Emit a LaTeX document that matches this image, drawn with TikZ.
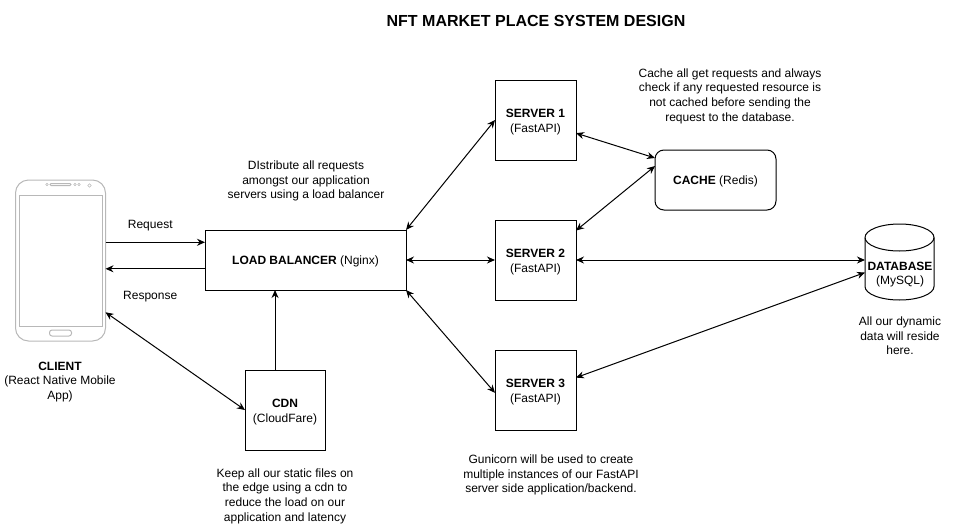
\documentclass[tikz,border=0pt]{standalone}
\usepackage{fontspec}
\setmainfont{Liberation Sans}
\usetikzlibrary{arrows.meta}
\definecolor{phonegray}{HTML}{B8B8B8}
\newcommand{\boxstrut}{\rule{0pt}{13pt}}
\newcommand{\linestrut}{\rule{0pt}{11pt}}

\begin{document}
\begin{tikzpicture}[>={Stealth[length=8pt,width=7pt]}, x=1pt, y=-1pt,
    every node/.style={font=\fontsize{12}{14.6}\selectfont, align=center, inner sep=0pt, outer sep=0pt},
    boxnode/.style={draw, line width=1pt},
    servernode/.style={boxnode, minimum width=81pt, minimum height=80pt},
    link/.style={<->, line width=1pt},
    flow/.style={->, line width=1pt},
    phoneline/.style={draw=phonegray, line width=1pt}]
  \useasboundingbox (0,0) rectangle (956,525);

  % title
  \node[font=\fontsize{16}{19}\selectfont\bfseries] (title) at (536,21) {NFT MARKET PLACE SYSTEM DESIGN};

  % client phone
  \node[phoneline, rounded corners=13pt, minimum width=90pt, minimum height=161pt] (client) at (60.5,260.5) {};
  \draw[phoneline] (19,195) rectangle (102,326);
  \draw[phoneline, rounded corners=2.5pt] (49.5,330) rectangle (71.5,336);
  \draw[phoneline, rounded corners=1pt] (50,183.5) rectangle (71,185.5);
  \draw[phonegray, line width=.6pt] (47,184.5) circle (1.3pt) (75,184.5) circle (1.3pt) (79,184.5) circle (1.3pt) (89.5,185.5) circle (1.8pt);
  \node (clientlabel) at (60,382) {\textbf{CLIENT}\\(React Native Mobile\\App)};

  % main boxes
  \node[boxnode, minimum width=201pt, minimum height=60pt] (lb) at (305.5,260) {\linestrut\textbf{LOAD BALANCER} (Nginx)};
  \node[boxnode, minimum width=80pt, minimum height=80pt] (cdn) at (285,410) {\boxstrut\textbf{CDN}\\(CloudFare)};
  \node[servernode] (server1) at (535.5,120) {\boxstrut\textbf{SERVER 1}\\(FastAPI)};
  \node[servernode] (server2) at (535.5,260) {\boxstrut\textbf{SERVER 2}\\(FastAPI)};
  \node[servernode] (server3) at (535.5,390) {\boxstrut\textbf{SERVER 3}\\(FastAPI)};
  \node[boxnode, rounded corners=9pt, minimum width=121pt, minimum height=60pt] (cache) at (715.5,180) {\linestrut\textbf{CACHE} (Redis)};

  % database drum
  \node[minimum width=69pt, minimum height=76pt] (db) at (899.5,262) {};
  \draw[line width=1pt] (865,237.5) arc[x radius=34.5pt, y radius=13.5pt, start angle=180, end angle=-180];
  \draw[line width=1pt] (865,237.5) -- (865,286.5) arc[x radius=34.5pt, y radius=13.5pt, start angle=180, end angle=360] -- (934,237.5);
  \node (dblabel) at (900,274.5) {\textbf{DATABASE}\\(MySQL)};

  % notes
  \node (lbnote) at (306,181) {DIstribute all requests\\amongst our application\\servers using a load balancer};
  \node (cachenote) at (730,96) {Cache all get requests and always\\check if any requested resource is\\not cached before sending the\\request to the database.};
  \node (dbnote) at (900,336) {All our dynamic\\data will reside\\here.};
  \node (cdnnote) at (285,496) {Keep all our static files on\\the edge using a cdn to\\reduce the load on our\\application and latency};
  \node (servernote) at (551,475) {Gunicorn will be used to create\\multiple instances of our FastAPI\\server side application/backend.};

  % client traffic
  \draw[flow] (client.east |- lb.170.4) -- node[above=11pt, xshift=-5pt] (reqlabel) {Request} (lb.170.4);
  \draw[flow] (lb.185.7) -- node[below=22pt, xshift=-5pt] (resplabel) {Response} (client.east |- lb.185.7);
  \draw[link] (client.-49.4) -- (cdn.west);
  \draw[flow] (cdn.104) -- (cdn.104 |- lb.south);

  % balancer to servers
  \draw[link] (lb.north east) -- (server1.west);
  \draw[link] (lb.east) -- (server2.west);
  \draw[link] (lb.south east) -- (server3.184);

  % servers to cache and database
  \draw[link] (server1.-18) -- (cache.160);
  \draw[link] (server2.36.5) -- (cache.167);
  \draw[link] (server2.east) -- (db.west |- server2.east);
  \draw[link] (server3.17) -- (db.197.7);
\end{tikzpicture}
\end{document}
